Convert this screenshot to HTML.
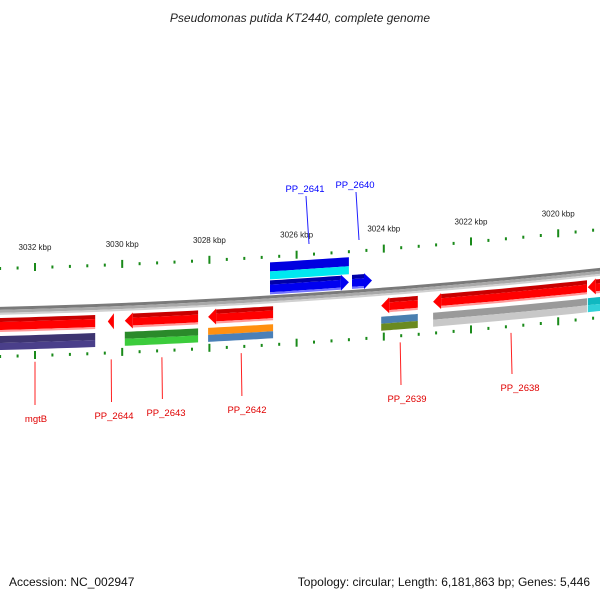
<!DOCTYPE html>
<html><head><meta charset="utf-8"><style>
html,body{margin:0;padding:0;background:#fff;}
svg{display:block;font-family:"Liberation Sans",sans-serif;}
</style></head><body>
<svg id="chart" width="600" height="600" viewBox="0 0 600 600">
<text x="300" y="22" text-anchor="middle" font-size="12" font-style="italic" fill="#222">Pseudomonas putida KT2440, complete genome</text>
<text x="9" y="586" font-size="12" fill="#111">Accession: NC_002947</text>
<text x="590" y="586" font-size="12" fill="#111" text-anchor="end">Topology: circular; Length: 6,181,863 bp; Genes: 5,446</text>
<g id="layer"></g>
</svg>
<script>
// ---- data ----
const tickKbp = [3032, 3030, 3028, 3026, 3024, 3022, 3020];
const revNames = ["mgtB", "PP_2644", "PP_2643", "PP_2642", "PP_2639", "PP_2638", ""];
const revStart = [3030.62, 3030.19, 3028.26, 3026.54, 3023.22, 3019.34, 3018.5];
const revEnd   = [3033.2, 3030.33, 3029.94, 3028.03, 3024.06, 3022.87, 3019.32];
const revCogTop = ["#3d3470", null, "#2a8a2a", "#ff9010", "#4a7fb0", "#9a9a9a", "#10b8c0"];
const revCogBot = ["#4a3f8a", null, "#3ccc3c", "#4a80b8", "#6a8a20", "#c8c8c8", "#30d0d8"];
const fwdNames = ["PP_2641", "PP_2640"];
const fwdStart = [3026.61, 3024.73];
const fwdEnd   = [3024.80, 3024.27];
const fwdCogTop = ["#0000e0", null];
const fwdCogBot = ["#00e8f0", null];
const revLabelX = [36, 114, 166, 247, 407, 520];
const revLabelY = [419, 416, 413, 410, 399, 388];
const fwdLabelX = [305, 355];
const fwdLabelY = [189, 185];

// ---- axis functions ----
const NS = "http://www.w3.org/2000/svg";
const layer = document.getElementById("layer");
function xOf(k){ return 35 + (3032 - k) * 43.6; }
function yOf(x){ return 311 - 0.025 * x - 6.67e-5 * x * x; }
function mk(tag, attrs, parent){ const e = document.createElementNS(NS, tag); for (const a in attrs) e.setAttribute(a, attrs[a]); (parent || layer).appendChild(e); return e; }
function band(x1, x2, o1, o2, fill, name){
  const pts = [];
  const n = 12;
  for (let i = 0; i <= n; i++){ const x = x1 + (x2 - x1) * i / n; pts.push(x.toFixed(1) + "," + (yOf(x) + o1).toFixed(1)); }
  for (let i = n; i >= 0; i--){ const x = x1 + (x2 - x1) * i / n; pts.push(x.toFixed(1) + "," + (yOf(x) + o2).toFixed(1)); }
  const p = mk("polygon", {points: pts.join(" "), fill: fill});
  
  
  return p;
}
function arrowGene(x1, x2, o1, o2, dir, dark, mid, light, name){
  const g = mk("g", {});
  
  
  const head = Math.min(8, (x2 - x1));
  const bx1 = dir < 0 ? x1 + head : x1;
  const bx2 = dir > 0 ? x2 - head : x2;
  const layers = [[o1, o1 + (o2 - o1) * 0.3, dark], [o1 + (o2 - o1) * 0.3, o2 - (o2 - o1) * 0.15, mid], [o2 - (o2 - o1) * 0.15, o2, light]];
  if (bx2 > bx1) layers.forEach(l => { const p = band(bx1, bx2, l[0], l[1], l[2], name + "-body"); g.appendChild(p); });
  const om = (o1 + o2) / 2;
  let tri;
  if (dir < 0) tri = [[bx1, yOf(bx1) + o1 - 1], [x1, yOf(x1) + om], [bx1, yOf(bx1) + o2 + 1]];
  else tri = [[bx2, yOf(bx2) + o1 - 1], [x2, yOf(x2) + om], [bx2, yOf(bx2) + o2 + 1]];
  const t = mk("polygon", {points: tri.map(p => p[0].toFixed(1) + "," + p[1].toFixed(1)).join(" "), fill: mid}, g);
  
  
}

// backbone
band(-10, 610, -4, -1, "#7a7a7a", "backbone-top");
band(-10, 610, -1, 2, "#a8a8a8", "backbone-mid");
band(-10, 610, 2, 4, "#d0d0d0", "backbone-bottom");

// tick rows
for (let k = 3033.2; k >= 3018.6; k -= 0.4){
  const kk = Math.round(k * 10) / 10;
  const x = xOf(kk);
  const major = Math.abs(kk / 2 - Math.round(kk / 2)) < 0.01;
  [-43, 45].forEach(off => {
    const y = yOf(x) + off;
    const r = mk("rect", {x: (x - 1).toFixed(1), y: (major ? y - 4 : y - 1).toFixed(1), width: 2, height: major ? 8 : 3, fill: "#1a8a1a"});
    
    
  });
}
tickKbp.forEach(k => {
  const x = xOf(k);
  const t = mk("text", {x: x.toFixed(1), y: (yOf(x) - 60).toFixed(1), "font-size": 8, "text-anchor": "middle", fill: "#222"});
  t.textContent = k + " kbp";
  
  
});

// reverse strand genes
revStart.forEach((s, i) => {
  const x1 = xOf(revEnd[i]), x2 = xOf(s);
  const nm = revNames[i] ? "gene-" + revNames[i].toLowerCase() : "gene-edge";
  if (i === 0){
    const g = mk("g", {});
    
    
    g.appendChild(band(x1, x2, 7, 11, "#c80000", nm + "-top"));
    g.appendChild(band(x1, x2, 11, 19, "#ff0000", nm + "-mid"));
    g.appendChild(band(x1, x2, 19, 21, "#ff9a9a", nm + "-bottom"));
  } else arrowGene(x1, x2, 7, 21, -1, "#c80000", "#ff0000", "#ff9a9a", nm);
  if (revCogTop[i]){
    band(x1, x2, 25, 32, revCogTop[i], nm + "-cog-top");
    band(x1, x2, 32, 39, revCogBot[i], nm + "-cog-bottom");
  }
});
// forward strand genes
fwdStart.forEach((s, i) => {
  const x1 = xOf(s), x2 = xOf(fwdEnd[i]);
  const nm = "gene-" + fwdNames[i].toLowerCase();
  arrowGene(x1, x2, -19, -5, 1, "#0000a8", "#0000f0", "#7070ff", nm);
  if (fwdCogTop[i]){
    band(x1, x2, -37, -28, fwdCogTop[i], nm + "-cog-top");
    band(x1, x2, -28, -20, fwdCogBot[i], nm + "-cog-bottom");
  }
});

// labels
revLabelX.forEach((lx, i) => {
  const gx = (xOf(revStart[i]) + xOf(Math.min(revEnd[i], 3032.9))) / 2;
  const ln = mk("line", {x1: (i === 0 ? 35 : gx - (gx - lx) * 0.1).toFixed(1), y1: (yOf(gx) + 52).toFixed(1), x2: (i === 0 ? 35 : gx - (gx - lx) * 0.15 + (lx - gx) * 0.05).toFixed(1), y2: revLabelY[i] - 14, stroke: "#ff2020", "stroke-width": 1});
  
  
  const t = mk("text", {x: lx, y: revLabelY[i] + 3, "font-size": 9.5, "text-anchor": "middle", fill: "#e00000"});
  t.textContent = revNames[i];
  
  
});
fwdLabelX.forEach((lx, i) => {
  const ln = mk("line", {x1: lx + 1, y1: fwdLabelY[i] + 7, x2: lx + 4, y2: fwdLabelY[i] + 55, stroke: "#2020ff", "stroke-width": 1});
  
  
  const t = mk("text", {x: lx, y: fwdLabelY[i] + 3, "font-size": 9.5, "text-anchor": "middle", fill: "#0000ff"});
  t.textContent = fwdNames[i];
  
  
});
</script>
</body></html>
